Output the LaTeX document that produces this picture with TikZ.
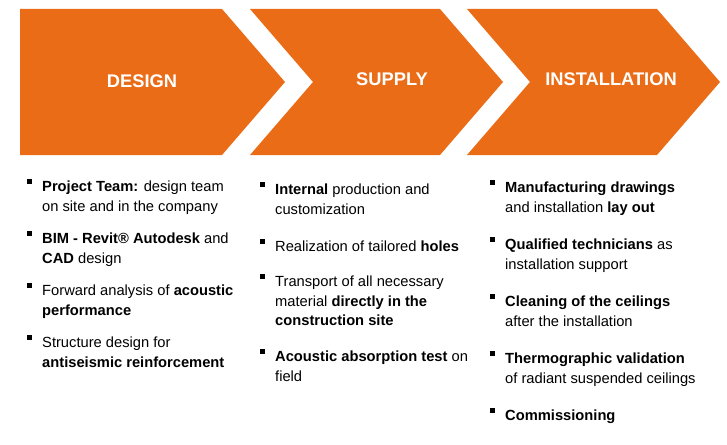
\documentclass[tikz,border=0pt]{standalone}
\usepackage{fontspec}
\setmainfont{Liberation Sans}
\usetikzlibrary{positioning}
\definecolor{chevron}{RGB}{234,108,23}

\begin{document}
\begin{tikzpicture}[x=1pt,y=-1pt,
  head/.style={text=white,font=\fontsize{18.3}{22}\selectfont\bfseries},
  item/.style={anchor=north west,inner sep=0pt,align=left,font=\fontsize{14.7}{19.5}\selectfont}]
\useasboundingbox(0,0)rectangle(727,444);
\fill[chevron](20,9)--(222,9)--(285,82)--(222,155)--(20,155)--cycle;
\fill[chevron](250,9)--(440,9)--(503,82)--(440,155)--(250,155)--(313,82)--cycle;
\fill[chevron](467,9)--(657,9)--(720,82)--(657,155)--(467,155)--(530,82)--cycle;
\node[head](design)at(142,81){DESIGN};
\node[head](supply)at(392,79){SUPPLY};
\node[head](install)at(611,79){INSTALLATION};
\node[item](d1)at(42,181){\textbf{Project Team:} design team\\on site and in the company};
\node[item](d2)at(42,233){\textbf{BIM - Revit® Autodesk} and\\\textbf{CAD} design};
\node[item](d3)at(42,285){Forward analysis of \textbf{acoustic}\\\textbf{performance}};
\node[item](d4)at(42,337){Structure design for\\\textbf{antiseismic reinforcement}};
\node[item](s1)at(275,184){\textbf{Internal} production and\\customization};
\node[item](s2)at(275,241){Realization of tailored \textbf{holes}};
\node[item](s3)at(275,276){Transport of all necessary\\material \textbf{directly in the}\\\textbf{construction site}};
\node[item](s4)at(275,351){\textbf{Acoustic absorption test} on\\field};
\node[item](i1)at(505,182){\textbf{Manufacturing drawings}\\and installation \textbf{lay out}};
\node[item](i2)at(505,239){\textbf{Qualified technicians} as\\installation support};
\node[item](i3)at(505,296){\textbf{Cleaning of the ceilings}\\after the installation};
\node[item](i4)at(505,353){\textbf{Thermographic validation}\\of radiant suspended ceilings};
\node[item](i5)at(505,410){\textbf{Commissioning}};
\foreach \n in {d1,d2,d3,d4,s1,s2,s3,s4,i1,i2,i3,i4,i5}
  \fill([xshift=-15pt,yshift=2pt]\n.north west)rectangle++(4.5,5);
\end{tikzpicture}
\end{document}
